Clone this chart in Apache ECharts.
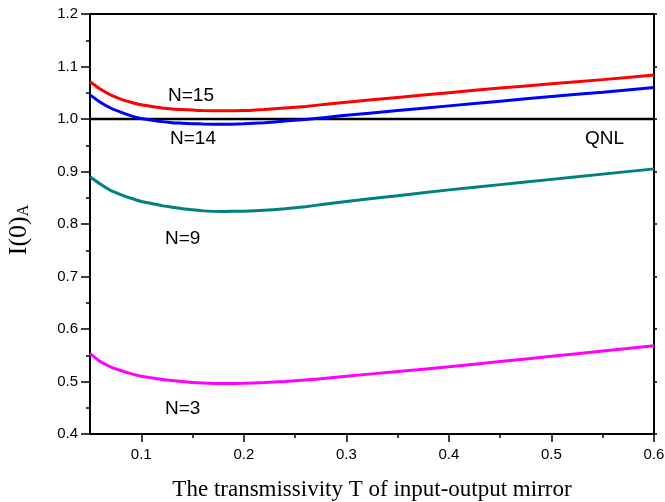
<!DOCTYPE html>
<html>
<head>
<meta charset="utf-8">
<script src="https://cdn.jsdelivr.net/npm/echarts@6/dist/echarts.min.js"></script>
<style>
  html, body { margin: 0; padding: 0; background: #fff; }
  #chart { width: 665px; height: 502px; }
</style>
</head>
<body>
<div id="chart"></div>
<script>
// transmissivity T (x values)
const T = [0.05, 0.06, 0.07, 0.08, 0.09, 0.10, 0.11, 0.12, 0.13, 0.14, 0.15, 0.16, 0.18, 0.20, 0.22, 0.24, 0.26, 0.28, 0.30, 0.35, 0.40, 0.45, 0.50, 0.55, 0.60];
// I(0)_A
const n15 = [1.071, 1.057, 1.046, 1.038, 1.032, 1.027, 1.024, 1.021, 1.019, 1.018, 1.017, 1.016, 1.0155, 1.016, 1.018, 1.021, 1.024, 1.028, 1.032, 1.041, 1.050, 1.059, 1.067, 1.075, 1.084];
const n14 = [1.046, 1.032, 1.021, 1.013, 1.006, 1.001, 0.998, 0.995, 0.993, 0.992, 0.991, 0.9905, 0.990, 0.991, 0.993, 0.996, 0.999, 1.003, 1.007, 1.016, 1.025, 1.034, 1.043, 1.051, 1.060];
const n9  = [0.890, 0.876, 0.864, 0.856, 0.849, 0.843, 0.839, 0.835, 0.832, 0.829, 0.827, 0.825, 0.824, 0.8245, 0.826, 0.829, 0.833, 0.838, 0.843, 0.854, 0.865, 0.875, 0.885, 0.895, 0.905];
const n3  = [0.553, 0.538, 0.528, 0.521, 0.515, 0.510, 0.507, 0.504, 0.502, 0.500, 0.498, 0.497, 0.496, 0.4965, 0.498, 0.500, 0.503, 0.506, 0.510, 0.519, 0.528, 0.538, 0.548, 0.558, 0.568];
const qnl = [1.0, 1.0];
const qnlT = [0.05, 0.6];

const xMajor = [0.1, 0.2, 0.3, 0.4, 0.5, 0.6];
const xMinor = [0.15, 0.25, 0.35, 0.45, 0.55];

function pairs(xs, ys) {
    return xs.map(function (x, i) { return [x, ys[i]]; });
}

const chart = echarts.init(document.getElementById("chart"));
const lbl = { fontFamily: 'Liberation Sans, Arial', fontSize: 19, color: '#000' };
const tickFont = { fontFamily: 'Liberation Sans, Arial', fontSize: 15, color: '#000' };

function curve(data, color) {
    return { type: 'line', data: data, symbol: 'none', smooth: 0.2, lineStyle: { color: color, width: 3 } };
}

const option = {
    animation: false,
    grid: { left: 90, right: 11, top: 14, bottom: 68, outerBoundsMode: 'none', containLabel: false },
    xAxis: [{
        type: 'value', min: 0.05, max: 0.6, position: 'bottom',
        axisLine: { lineStyle: { color: '#000', width: 2 } },
        axisTick: { show: true, customValues: xMajor, length: 8, lineStyle: { color: '#000', width: 1.5 } },
        axisLabel: Object.assign({ customValues: xMajor, formatter: function (v) { return v.toFixed(1); }, margin: 13 }, tickFont),
        splitLine: { show: false },
        name: 'The transmissivity T of input-output mirror',
        nameLocation: 'middle', nameGap: 44,
        nameTextStyle: { fontFamily: 'Liberation Serif, Times New Roman', fontSize: 23, color: '#000' }
    }, {
        type: 'value', min: 0.05, max: 0.6, position: 'bottom',
        axisLine: { show: false },
        axisTick: { show: true, customValues: xMinor, length: 4, lineStyle: { color: '#000', width: 1.5 } },
        axisLabel: { show: false },
        splitLine: { show: false }
    }, {
        type: 'value', min: 0.05, max: 0.6, position: 'top',
        axisLine: { lineStyle: { color: '#000', width: 2 } },
        axisTick: { show: false }, axisLabel: { show: false }, splitLine: { show: false }
    }],
    yAxis: [{
        type: 'value', min: 0.4, max: 1.2, interval: 0.1, position: 'left',
        axisLine: { show: true, lineStyle: { color: '#000', width: 2 } },
        axisTick: { show: true, length: 9, lineStyle: { color: '#000', width: 1.5 } },
        minorTick: { show: true, splitNumber: 2, length: 4, lineStyle: { color: '#000', width: 1.5 } },
        axisLabel: Object.assign({ formatter: function (v) { return v.toFixed(1); }, margin: 12 }, tickFont),
        splitLine: { show: false },
        name: '{a|I(0)}{b|A}',
        nameLocation: 'middle', nameGap: 58, nameRotate: 90,
        nameTextStyle: {
            padding: [0, 12, 0, 0],
            rich: {
                a: { fontFamily: 'Liberation Serif, Times New Roman', fontSize: 26, color: '#000' },
                b: { fontFamily: 'Liberation Serif, Times New Roman', fontSize: 16, color: '#000', verticalAlign: 'bottom', padding: [8, 0, 0, 0] }
            }
        }
    }, {
        type: 'value', min: 0.4, max: 1.2, interval: 0.1, position: 'right',
        axisLine: { show: true, lineStyle: { color: '#000', width: 2 } },
        axisTick: { show: true, length: 3, lineStyle: { color: '#000', width: 1.5 } },
        axisLabel: { show: false }, splitLine: { show: false }
    }],
    series: [
        { type: 'line', data: pairs(qnlT, qnl), symbol: 'none', lineStyle: { color: '#000', width: 2.5 } },
        curve(pairs(T, n15), '#ff0000'),
        curve(pairs(T, n14), '#0000ff'),
        curve(pairs(T, n9), '#008080'),
        curve(pairs(T, n3), '#ff00ff')
    ],
    graphic: [
        { type: 'text', left: 168, top: 86, style: Object.assign({ text: 'N=15' }, lbl) },
        { type: 'text', left: 170, top: 129, style: Object.assign({ text: 'N=14' }, lbl) },
        { type: 'text', left: 165, top: 229, style: Object.assign({ text: 'N=9' }, lbl) },
        { type: 'text', left: 165, top: 399, style: Object.assign({ text: 'N=3' }, lbl) },
        { type: 'text', left: 585, top: 129, style: Object.assign({ text: 'QNL' }, lbl) }
    ]
};
chart.setOption(option);
</script>
</body>
</html>
